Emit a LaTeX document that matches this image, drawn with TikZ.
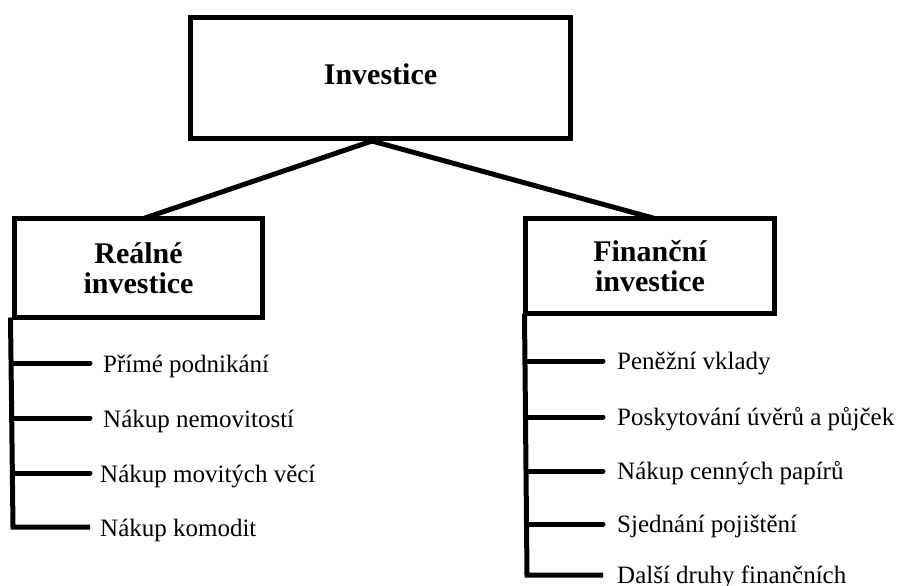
\documentclass[tikz,border=0pt]{standalone}
\usepackage{fontspec}
\setmainfont{Liberation Serif}
\usetikzlibrary{calc}
\begin{document}
\begin{tikzpicture}[x=1pt,y=-1pt,
  box/.style={draw,line width=5pt,inner sep=0pt,align=center,font=\fontsize{30}{36}\selectfont\bfseries},
  conn/.style={line width=5pt},
  tick/.style={line width=5pt,line cap=round},
  item/.style={anchor=base west,inner sep=0pt,font=\fontsize{25}{30}\selectfont}]
\useasboundingbox (0,0) rectangle (898,586);
\node[box,minimum width=380pt,minimum height=121pt] (top) at (380.5,78) {\raisebox{8pt}{Investice}};
\node[box,minimum width=248pt,minimum height=99pt] (real) at (138.5,268) {Reálné\\[-6pt]investice};
\node[box,minimum width=249pt,minimum height=95pt] (fin) at (650,266) {Finanční\\[-6pt]investice};
\coordinate (apex) at (372,141);
\coordinate (rtop) at (145,218);
\coordinate (ftop) at (653,218);
\draw[conn] (apex) -- (rtop);
\draw[conn] (apex) -- (ftop);
% left list
\node[item] (r1) at (103,372) {Přímé podnikání};
\node[item] (r2) at (103,427) {Nákup nemovitostí};
\node[item] (r3) at (100,482) {Nákup movitých věcí};
\node[item] (r4) at (100,536) {Nákup komodit};
\coordinate (rs1) at (13,363);
\coordinate (rs2) at (13,418);
\coordinate (rs3) at (13,473);
\coordinate (rs4) at (13,527);
\coordinate (re1) at (90,363);
\coordinate (re2) at (90,418);
\coordinate (re3) at (90,473);
\coordinate (re4) at (90,527);
\draw[conn] (real.south west) ++(-1.5,-2.5) -- (rs4) -- (re4);
\foreach \i in {1,2,3} \draw[tick] (rs\i) -- (re\i);
% right list
\node[item] (f1) at (617,369) {Peněžní vklady};
\node[item] (f2) at (617,425) {Poskytování úvěrů a půjček};
\node[item] (f3) at (617,479) {Nákup cenných papírů};
\node[item] (f4) at (617,532) {Sjednání pojištění};
\node[item] (f5) at (617,583) {Další druhy finančních};
\coordinate (fs1) at (527,361);
\coordinate (fs2) at (527,417);
\coordinate (fs3) at (527,471);
\coordinate (fs4) at (527,524);
\coordinate (fs5) at (527,575);
\coordinate (fe1) at (603,361);
\coordinate (fe2) at (603,417);
\coordinate (fe3) at (603,471);
\coordinate (fe4) at (603,524);
\coordinate (fe5) at (603,575);
\draw[conn] (fin.south west) ++(1.5,-2.5) -- (fs5) -- (fe5);
\foreach \i in {1,2,3,4} \draw[tick] (fs\i) -- (fe\i);
\end{tikzpicture}
\end{document}
